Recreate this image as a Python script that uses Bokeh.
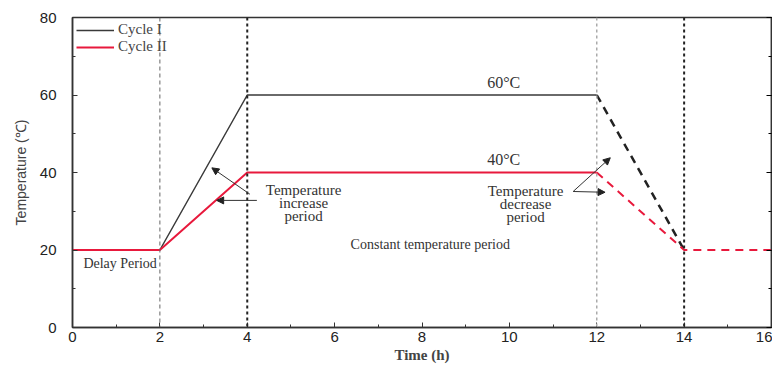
from bokeh.plotting import figure
from bokeh.models import LinearAxis, Range1d, Arrow, NormalHead, Legend, LegendItem, Span, FixedTicker, Label
from bokeh.embed import file_html
from bokeh.resources import INLINE

# Data
cycle1_x_solid = [2, 4, 12]
cycle1_y_solid = [20, 60, 60]
cycle1_x_dash = [12, 14]
cycle1_y_dash = [60, 20]
cycle2_x_solid = [0, 2, 4, 12]
cycle2_y_solid = [20, 20, 40, 40]
cycle2_x_dash = [12, 14, 16]
cycle2_y_dash = [40, 20, 20]
x_ticks = [0, 2, 4, 6, 8, 10, 12, 14, 16]
y_ticks = [0, 20, 40, 60, 80]
phase_bounds = [2, 4, 12, 14]

RED = "#e8193c"
DARK = "#3a3a3a"

p = figure(width=772, height=365, output_backend="svg", toolbar_location=None,
           x_range=Range1d(0, 16), y_range=Range1d(0, 80),
           min_border_left=72, min_border_right=1, min_border_top=17, min_border_bottom=35)
p.xgrid.visible = False
p.ygrid.visible = False
p.outline_line_color = "#333333"
p.outline_line_width = 1.5

# vertical phase lines
vstyles = [("#666666", 1, "4 3"), ("#222222", 2, "3 3"), ("#aaaaaa", 1.5, "3 3"), ("#222222", 2, "3 3")]
for xb, (c, w, d) in zip(phase_bounds, vstyles):
    p.add_layout(Span(location=xb, dimension="height", line_color=c, line_width=w, line_dash=d))

r1 = p.line(cycle1_x_solid, cycle1_y_solid, line_color=DARK, line_width=1.5)
p.line(cycle1_x_dash, cycle1_y_dash, line_color="#222222", line_width=2.5, line_dash="8 6")
r2 = p.line(cycle2_x_solid, cycle2_y_solid, line_color=RED, line_width=2)
p.line(cycle2_x_dash, cycle2_y_dash, line_color=RED, line_width=2, line_dash="8 6")

legend = Legend(items=[LegendItem(label="Cycle I", renderers=[r1]),
                       LegendItem(label="Cycle II", renderers=[r2])],
                location="top_left", border_line_alpha=0, background_fill_alpha=0,
                label_text_font="Liberation Serif", label_text_font_size="15px",
                glyph_width=38, glyph_height=12, spacing=-1, padding=2, margin=2,
                label_standoff=4, label_height=13)
p.add_layout(legend)

# Axes
for ax in (p.xaxis[0], p.yaxis[0]):
    ax.major_tick_in = 5
    ax.major_tick_out = 0
    ax.minor_tick_in = 3
    ax.minor_tick_out = 0
    ax.axis_line_color = "#333333"
    ax.major_tick_line_color = "#333333"
    ax.minor_tick_line_color = "#333333"
    ax.axis_line_width = 1.5
    ax.major_label_text_font = "Liberation Sans"
    ax.major_label_text_font_size = "15px"
    ax.major_label_text_color = "#222222"
p.xaxis.ticker = FixedTicker(ticks=x_ticks, minor_ticks=list(range(0, 17)))
p.yaxis.ticker = FixedTicker(ticks=y_ticks, minor_ticks=list(range(0, 81, 10)))
p.xaxis.major_label_standoff = 4
p.yaxis.major_label_standoff = 16
p.xaxis.axis_label = "Time (h)"
p.xaxis.axis_label_text_font = "Liberation Serif"
p.xaxis.axis_label_text_font_style = "bold"
p.xaxis.axis_label_text_font_size = "15px"
p.xaxis.axis_label_standoff = 2
p.yaxis.axis_label = "Temperature (℃)"
p.yaxis.axis_label_text_font = "Liberation Sans"
p.yaxis.axis_label_text_font_style = "normal"
p.yaxis.axis_label_text_font_size = "14px"
p.yaxis.axis_label_standoff = 8

rax = LinearAxis(ticker=FixedTicker(ticks=y_ticks, minor_ticks=list(range(0, 81, 10))),
                 major_label_text_alpha=0, major_label_text_font_size="1px",
                 major_tick_in=5, major_tick_out=0, minor_tick_in=3, minor_tick_out=0,
                 axis_line_width=1.5, axis_line_color="#333333")
p.add_layout(rax, "right")

# Arrows
for (xs, ys, xe, ye) in [(4.06, 34.4, 3.19, 41.2), (4.22, 32.8, 3.30, 32.8),
                         (11.46, 35.1, 12.31, 43.8), (11.46, 35.1, 12.19, 34.9)]:
    p.add_layout(Arrow(x_start=xs, y_start=ys, x_end=xe, y_end=ye, line_color="#333333",
                       line_width=1, end=NormalHead(size=7, fill_color="#222222", line_color="#222222")))

def txt(x, y, s, size="15px"):
    p.add_layout(Label(x=x, y=y, text=s, text_font="Liberation Serif", text_font_size=size,
                       text_align="center", text_baseline="middle", text_color="#333333"))

txt(5.29, 35.4, "Temperature")
txt(5.29, 32.1, "increase")
txt(5.29, 28.7, "period")
txt(10.37, 35.1, "Temperature")
txt(10.37, 31.8, "decrease")
txt(10.37, 28.5, "period")
txt(9.87, 63.1, "60°C", "16px")
txt(9.87, 43.3, "40°C", "16px")
txt(1.09, 16.4, "Delay Period", "14px")
txt(8.23, 21.5, "Constant temperature  period", "14px")

open("out.html", "w").write(file_html(p, INLINE))
